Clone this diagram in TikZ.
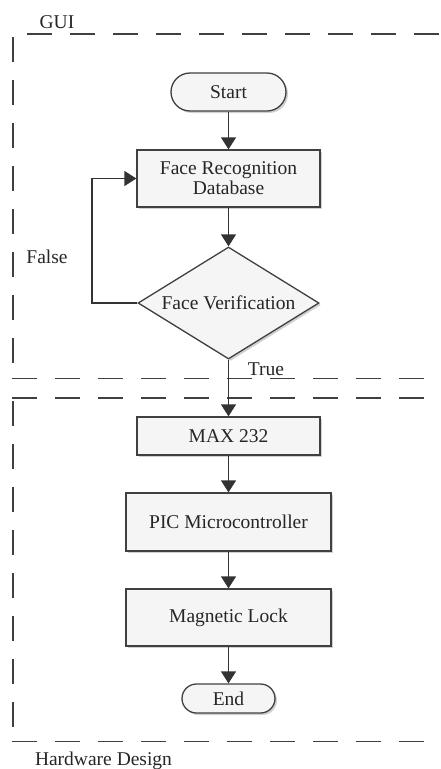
\documentclass[tikz,border=0pt]{standalone}
\usepackage{fontspec}
\setmainfont{Liberation Serif}
\usetikzlibrary{arrows.meta,shapes.geometric,shadows}
\newcommand{\fsz}{\fontsize{19.5pt}{20pt}\selectfont}
\begin{document}
\begin{tikzpicture}[x=1pt,y=-1pt,
  shade/.style={drop shadow={shadow xshift=2pt,shadow yshift=-2pt,opacity=0.18,fill=black}},
  box/.style={draw=black!75, line width=1.3pt, fill=gray!8, inner sep=0pt, font=\fsz, text=black!85, align=center, shade},
  term/.style={box},
  dec/.style={box, diamond, aspect=1.6},
  arr/.style={draw=black!80, line width=1.3pt, -{Triangle[width=15pt,length=12pt]}},
  frame/.style={draw=black!75, line width=1.1pt, dash pattern=on 25pt off 18pt},
  lbl/.style={font=\fsz, text=black!85, inner sep=0pt}
]
\useasboundingbox (0,0) rectangle (441,769);
% frames
\draw[frame] (27,34) -- (441,34);
\draw[frame] (13,37) -- (13,368);
\draw[frame] (12,378.7) -- (441,378.7);
\draw[frame] (12,398) -- (441,398);
\draw[frame] (13,401) -- (13,730);
\draw[frame] (12,741.7) -- (441,741.7);
% labels
\node[lbl] (gui) at (57,22) {GUI};
\node[lbl] (hw) at (103.5,761) {Hardware Design};
\node[lbl] (false) at (47,257) {False};
\node[lbl] (true) at (266,369) {True};
% nodes
\node[term, rounded corners=19pt, minimum width=115pt, minimum height=38pt] (start) at (228.5,92) {Start};
\node[box, minimum width=183pt, minimum height=57pt] (frd) at (228.5,178.5) {Face Recognition\\Database};
\node[dec, minimum width=181pt, minimum height=112pt] (ver) at (228.5,303) {Face Verification};
\node[box, minimum width=183pt, minimum height=38pt] (max) at (228.5,436) {MAX 232};
\node[box, minimum width=205pt, minimum height=58pt] (pic) at (228.5,522) {PIC Microcontroller};
\node[box, minimum width=205pt, minimum height=57pt] (lock) at (228.5,617.5) {Magnetic Lock};
\node[term, rounded corners=14.5pt, minimum width=93pt, minimum height=29pt] (end) at (228.5,698.5) {End};
% connectors
\coordinate (loop) at (92,303);
\draw[arr] (start) -- (frd);
\draw[arr] (frd) -- (ver);
\draw[arr] (ver.west) -- (loop) |- (frd.west);
\draw[arr] (ver.south) -- (max.north);
\draw[arr] (max) -- (pic);
\draw[arr] (pic) -- (lock);
\draw[arr] (lock) -- (end);
\end{tikzpicture}
\end{document}
